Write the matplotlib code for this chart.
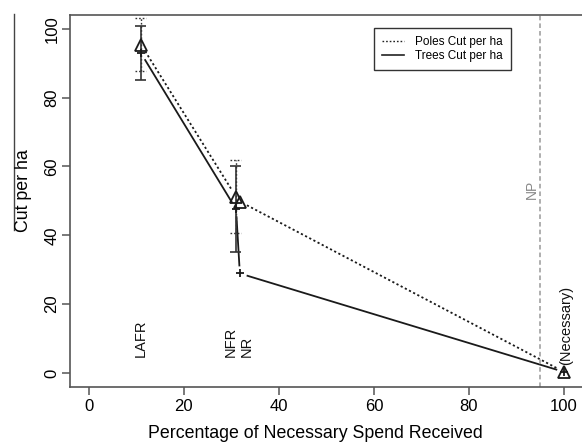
import numpy as np
import matplotlib.pyplot as plt
from matplotlib.lines import Line2D

plt.rcParams['font.family'] = ['Liberation Sans', 'DejaVu Sans']

# spend level of each scenario (% of necessary spend)
pct = [11, 31, 31.8, 100]
poles_cut = [95.4, 51.2, 49.8, 0.3]
trees_cut = [92.9, 47.6, 28.9, 0.3]

# error bars, only for the first two scenarios
err_pct = [10.9, 30.9]
poles_lo = [87.8, 40.6]
poles_hi = [103.0, 61.9]
trees_lo = [85.2, 35.2]
trees_hi = [100.9, 60.0]

scen_names = ['LAFR', 'NFR', 'NR', '(Necessary)']
scen_x = [10.9, 29.8, 33.3, 100.5]
scen_y = [4.6, 4.6, 4.6, 2.2]

np_line = 95

W, H = 582, 446
fig = plt.figure(figsize=(W / 100, H / 100), dpi=100)
ax = fig.add_axes([69.7 / W, 1 - 386.7 / H, (583 - 69.7) / W, (386.7 - 15) / H])
ax.set_xlim(-4, 104)
ax.set_ylim(-4, 104)

spine_col = '#555555'
for s in ax.spines.values():
    s.set_color(spine_col)
    s.set_linewidth(1.2)
ax.spines['right'].set_visible(False)

ax.set_xticks([0, 20, 40, 60, 80, 100])
ax.set_yticks([0, 20, 40, 60, 80, 100])
ax.tick_params(axis='both', length=6, width=1.1, color=spine_col, labelsize=12)
ax.tick_params(axis='x', pad=3)
ax.tick_params(axis='y', pad=1.5)
for lab in ax.get_yticklabels():
    lab.set_rotation(90)
    lab.set_va('center')

dotted = (0, (1.2, 1.4))


def gapped(xs, ys, gap, **kw):
    # R style type="b": lines stop short of each point
    pts = ax.transData.transform(np.column_stack([xs, ys]))
    inv = ax.transData.inverted()
    for p0, p1 in zip(pts[:-1], pts[1:]):
        d = p1 - p0
        L = np.hypot(*d)
        if L <= 2 * gap:
            continue
        u = d / L
        a = inv.transform(p0 + u * gap)
        b = inv.transform(p1 - u * gap)
        ax.plot([a[0], b[0]], [a[1], b[1]], **kw)


gapped(pct, poles_cut, 8, color='#1a1a1a', lw=1.3, linestyle=dotted)
gapped(pct, trees_cut, 8, color='#1a1a1a', lw=1.3)

cap = 1.1
ax.vlines(err_pct, poles_lo, poles_hi, colors='#333333', lw=1, linestyles=dotted)
ax.hlines(poles_lo + poles_hi, [x - cap for x in err_pct * 2], [x + cap for x in err_pct * 2],
          colors='#333333', lw=1, linestyles=dotted)
ax.vlines(err_pct, trees_lo, trees_hi, colors='#333333', lw=1.2)
ax.hlines(trees_lo + trees_hi, [x - cap for x in err_pct * 2], [x + cap for x in err_pct * 2],
          colors='#333333', lw=1.2)

ax.plot(pct, poles_cut, linestyle='none', marker='^', ms=8, mfc='none', mec='#1a1a1a', mew=1.3)
ax.plot(pct, trees_cut, linestyle='none', marker='+', ms=6, mec='#1a1a1a', mew=1.3)

ax.axvline(np_line, color='#999999', lw=1.1, linestyle=(0, (3, 2)))
ax.text(93.2, 50.6, 'NP', rotation=90, color='#888888', fontsize=10, ha='center', va='bottom')

for name, x, y in zip(scen_names, scen_x, scen_y):
    ax.text(x, y, name, rotation=90, fontsize=10.5, ha='center', va='bottom', color='#111111')

handles = [Line2D([], [], color='#222222', lw=1, linestyle=dotted),
           Line2D([], [], color='#222222', lw=1.2)]
leg = ax.legend(handles, ['Poles Cut per ha', 'Trees Cut per ha'], loc='upper left',
                bbox_to_anchor=(374 / W, 1 - 28 / H), bbox_transform=fig.transFigure,
                borderaxespad=0, fontsize=8.5, handlelength=1.85, handletextpad=0.9,
                labelspacing=0.15, borderpad=0.7, fancybox=False, framealpha=1)
leg.get_frame().set_edgecolor('#333333')
leg.get_frame().set_linewidth(1)

fig.text(315 / W, 1 - 434 / H, 'Percentage of Necessary Spend Received', fontsize=12.8,
         ha='center', va='center')
fig.text(24 / W, 1 - 191 / H, 'Cut per ha', fontsize=12.8, rotation=90, ha='center', va='center')
fig.add_artist(Line2D([14 / W, 14 / W], [1 - 14 / H, 1 - 230 / H], color='#444444', lw=1))

fig.savefig('out.png', dpi=100)
